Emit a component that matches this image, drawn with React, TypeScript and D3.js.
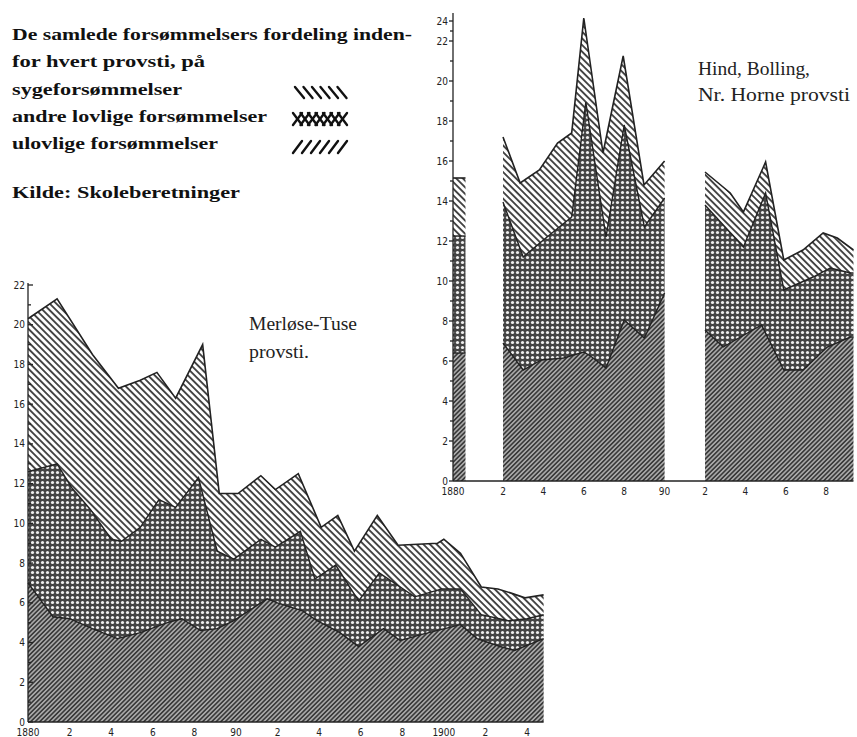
import * as d3 from "d3";

// Merløse-Tuse provsti: cumulative boundaries [year, value]
const mtTotal: [number, number][] = [
  [1880, 20.3], [1881.4, 21.3], [1883.1, 18.5], [1884.35, 16.8], [1885.4, 17.2],
  [1886.2, 17.6], [1887.1, 16.3], [1888.4, 19.0], [1889.2, 11.5], [1890.1, 11.5],
  [1891.2, 12.4], [1891.9, 11.7], [1893.0, 12.5], [1894.1, 9.8], [1894.9, 10.4],
  [1895.7, 8.6], [1896.8, 10.4], [1897.8, 8.9], [1899.7, 9.0], [1900.0, 9.2],
  [1900.8, 8.5], [1901.8, 6.8], [1902.6, 6.7], [1903.2, 6.5], [1903.9, 6.25],
  [1904.8, 6.4],
];
const mtMid: [number, number][] = [
  [1880, 12.6], [1881.4, 13.0], [1882.1, 11.8], [1883.0, 10.7], [1884.0, 9.2],
  [1884.5, 9.1], [1885.4, 9.8], [1886.3, 11.2], [1887.1, 10.8], [1888.2, 12.3],
  [1889.1, 8.6], [1889.9, 8.2], [1891.2, 9.2], [1891.9, 8.8], [1893.1, 9.6],
  [1893.8, 7.2], [1894.8, 7.9], [1895.9, 6.1], [1896.9, 7.5], [1898.6, 6.3],
  [1899.9, 6.7], [1900.8, 6.7], [1901.8, 5.4], [1903.1, 5.1], [1904.0, 5.2],
  [1904.8, 5.4],
];
const mtLow: [number, number][] = [
  [1880, 7.0], [1881.2, 5.3], [1882.0, 5.2], [1883.1, 4.7], [1884.3, 4.2],
  [1885.4, 4.5], [1886.7, 5.0], [1887.4, 5.2], [1888.3, 4.6], [1889.1, 4.7],
  [1889.9, 5.1], [1891.5, 6.2], [1892.0, 6.0], [1893.2, 5.6], [1893.9, 5.1],
  [1895.0, 4.5], [1895.9, 3.8], [1897.1, 4.7], [1897.9, 4.1], [1898.9, 4.4],
  [1900.8, 4.9], [1901.6, 4.2], [1902.7, 3.8], [1903.4, 3.6], [1904.8, 4.2],
];

// Hind, Bølling, Nr. Horne provsti: three separate blocks
const hbTotal: [number, number][][] = [
  [[1880, 15.15], [1880.5, 15.15]],
  [[1882, 17.2], [1882.85, 14.9], [1883.8, 15.55], [1884.7, 16.9], [1885.4, 17.4],
   [1886.0, 24.3], [1886.95, 16.4], [1887.95, 21.25], [1888.98, 14.8], [1890, 16.0]],
  [[1892, 15.45], [1893.25, 14.4], [1893.9, 13.45], [1895.0, 15.95], [1895.9, 11.05],
   [1896.85, 11.55], [1897.85, 12.4], [1898.55, 12.15], [1899.35, 11.55]],
];
const hbMid: [number, number][][] = [
  [[1880, 12.25], [1880.5, 12.25]],
  [[1882, 13.95], [1883, 11.2], [1884, 12.05], [1885.4, 13.2], [1886.1, 18.95],
   [1887.1, 12.2], [1888, 17.8], [1889, 12.7], [1890, 14.15]],
  [[1892, 13.8], [1893.9, 11.7], [1895.0, 14.4], [1895.9, 9.55], [1897.35, 10.2],
   [1898.2, 10.65], [1899.2, 10.4], [1899.35, 10.4]],
];
const hbLow: [number, number][][] = [
  [[1880, 6.4], [1880.5, 6.4]],
  [[1882, 6.9], [1883, 5.55], [1883.9, 6.05], [1885, 6.15], [1886, 6.45],
   [1886.4, 6.2], [1887.1, 5.65], [1888, 8.05], [1889, 7.15], [1890, 9.4]],
  [[1892, 7.55], [1892.9, 6.7], [1894.8, 7.8], [1895.9, 5.55], [1896.85, 5.55],
   [1898.05, 6.7], [1899.2, 7.2], [1899.35, 7.2]],
];

const mtYTicks = [0, 2, 4, 6, 8, 10, 12, 14, 16, 18, 20, 22];
const mtXTicks = [1880, 1882, 1884, 1886, 1888, 1890, 1892, 1894, 1896, 1898, 1900, 1902, 1904];
const mtXLabels = ["1880", "2", "4", "6", "8", "90", "2", "4", "6", "8", "1900", "2", "4"];
const hbYTicks = [0, 2, 4, 6, 8, 10, 12, 14, 16, 18, 20, 22, 24];
const hbXTicks = [1880, 1882, 1884, 1886, 1888, 1890, 1892, 1894, 1896, 1898];
const hbXLabels = ["1880", "2", "4", "6", "8", "90", "2", "4", "6", "8"];

const titleLines = [
  "De samlede forsømmelsers fordeling inden-",
  "for hvert provsti, på",
];
const legendLabels = ["sygeforsømmelser", "andre lovlige forsømmelser", "ulovlige forsømmelser"];
const sourceText = "Kilde: Skoleberetninger";

const xL = d3.scaleLinear().domain([1880, 1904]).range([28, 527]);
const yL = d3.scaleLinear().domain([0, 22]).range([722, 285]);
const xR = d3.scaleLinear().domain([1880, 1882, 1899.5]).range([453, 503, 856.5]);
const yR = d3.scaleLinear().domain([0, 22, 24]).range([481, 41, 21]);

type Sc = d3.ScaleLinear<number, number>;
const line = d3.line();

function band(upper: [number, number][], lower: [number, number][], x: Sc, y: Sc) {
  const pts: [number, number][] = [
    ...upper.map(([a, b]) => [x(a), y(b)] as [number, number]),
    ...[...lower].reverse().map(([a, b]) => [x(a), y(b)] as [number, number]),
  ];
  return line(pts) + "Z";
}
function edge(pts: [number, number][], x: Sc, y: Sc) {
  return line(pts.map(([a, b]) => [x(a), y(b)]))!;
}

function Block({ total, mid, low, x, y }: { total: [number, number][]; mid: [number, number][]; low: [number, number][]; x: Sc; y: Sc }) {
  const first = low[0][0];
  const last = low[low.length - 1][0];
  const base: [number, number][] = [[first, 0], [last, 0]];
  return (
    <g>
      <path d={band(low, base, x, y)} fill="url(#pUlov)" />
      <path d={band(mid, low, x, y)} fill="url(#pLov)" />
      <path d={band(total, mid, x, y)} fill="url(#pSyge)" />
      <path d={edge(low, x, y)} fill="none" stroke="#222" strokeWidth={1.4} />
      <path d={edge(mid, x, y)} fill="none" stroke="#222" strokeWidth={1.4} />
      <path d={edge(total, x, y)} fill="none" stroke="#222" strokeWidth={1.6} />
    </g>
  );
}

const tickFont = "'DejaVu Sans Condensed', 'DejaVu Sans', sans-serif";
const serif = "'Liberation Serif', 'Times New Roman', serif";

export default function App() {
  const mtMinor = d3.range(0, 23);
  const hbMinor = d3.range(0, 25);
  return (
    <svg width={857} height={737} style={{ position: "absolute", left: 0, top: 0, background: "#fff" }}>
      <defs>
        <pattern id="pSyge" patternUnits="userSpaceOnUse" width={8} height={4.7} patternTransform="rotate(45)">
          <rect width={8} height={4.7} fill="#fff" />
          <rect width={8} height={1.9} fill="#444" />
        </pattern>
        <pattern id="pLov" patternUnits="userSpaceOnUse" width={5} height={5}>
          <rect width={5} height={5} fill="#444" />
          <circle cx={2.5} cy={2.5} r={1.6} fill="#eee" />
        </pattern>
        <pattern id="pUlov" patternUnits="userSpaceOnUse" width={8} height={3.2} patternTransform="rotate(-45)">
          <rect width={8} height={3.2} fill="#a8a8a8" />
          <rect width={8} height={1.6} fill="#3a3a3a" />
        </pattern>
      </defs>

      {/* header text */}
      <g fontFamily={serif} fontWeight="bold" fontSize={17} fill="#111">
        <text x={12} y={40} textLength={400} lengthAdjust="spacingAndGlyphs">{titleLines[0]}</text>
        <text x={12} y={67} textLength={193} lengthAdjust="spacingAndGlyphs">{titleLines[1]}</text>
        <text x={12} y={95} textLength={170} lengthAdjust="spacingAndGlyphs">{legendLabels[0]}</text>
        <text x={12} y={122} textLength={255} lengthAdjust="spacingAndGlyphs">{legendLabels[1]}</text>
        <text x={12} y={149} textLength={206} lengthAdjust="spacingAndGlyphs">{legendLabels[2]}</text>
        <text x={12} y={198} textLength={228} lengthAdjust="spacingAndGlyphs">{sourceText}</text>
      </g>
      {/* legend symbols */}
      <g stroke="#111" strokeWidth={2.4} strokeLinecap="round">
        {d3.range(6).map((i) => (
          <line key={"a" + i} x1={295 + i * 8.5} y1={87} x2={304 + i * 8.5} y2={98} />
        ))}
        {d3.range(7).map((i) => (
          <line key={"b" + i} x1={293 + i * 7.5} y1={125} x2={302 + i * 7.5} y2={113} />
        ))}
        {d3.range(7).map((i) => (
          <line key={"c" + i} x1={293 + i * 7.5} y1={113} x2={302 + i * 7.5} y2={125} />
        ))}
        {d3.range(6).map((i) => (
          <line key={"d" + i} x1={293 + i * 9} y1={153} x2={302 + i * 9} y2={141} />
        ))}
      </g>

      {/* Merløse-Tuse panel */}
      <Block total={mtTotal} mid={mtMid} low={mtLow} x={xL} y={yL} />
      <g stroke="#222" strokeWidth={1.3}>
        <line x1={xL(1880)} x2={xL(1880)} y1={yL(22) - 2} y2={yL(0)} />
        <line x1={xL(1880)} x2={xL(mtTotal[mtTotal.length - 1][0])} y1={yL(0)} y2={yL(0)} />
        {mtMinor.map((v) => (
          <line key={v} x1={xL(1880)} x2={xL(1880) + (v % 2 === 0 ? 5 : 3)} y1={yL(v)} y2={yL(v)} />
        ))}
      </g>
      <g fontFamily={tickFont} fontSize={10} fill="#222">
        {mtYTicks.map((v) => (
          <text key={v} x={25} y={yL(v) + 3.5} textAnchor="end">{v}</text>
        ))}
        {mtXTicks.map((t, i) => (
          <text key={t} x={xL(t)} y={736} textAnchor="middle">{mtXLabels[i]}</text>
        ))}
      </g>
      <g fontFamily={serif} fontSize={18} fill="#222">
        <text x={249} y={330} textLength={108} lengthAdjust="spacingAndGlyphs">Merløse-Tuse</text>
        <text x={249} y={358} textLength={60} lengthAdjust="spacingAndGlyphs">provsti.</text>
      </g>

      {/* Hind, Bølling, Nr. Horne panel */}
      {hbTotal.map((t, i) => (
        <Block key={i} total={t} mid={hbMid[i]} low={hbLow[i]} x={xR} y={yR} />
      ))}
      <g stroke="#222" strokeWidth={1.3}>
        <line x1={xR(1880)} x2={xR(1880)} y1={yR(24) - 8} y2={yR(0)} />
        <line x1={xR(1880)} x2={xR(1899.35)} y1={yR(0)} y2={yR(0)} />
        {hbMinor.map((v) => (
          <line key={v} x1={xR(1880)} x2={xR(1880) - (v % 2 === 0 ? 4 : 3)} y1={yR(v)} y2={yR(v)} />
        ))}
      </g>
      <g fontFamily={tickFont} fontSize={10} fill="#222">
        {hbYTicks.map((v) => (
          <text key={v} x={448} y={yR(v) + 3.5} textAnchor="end">{v}</text>
        ))}
        {hbXTicks.map((t, i) => (
          <text key={t} x={xR(t)} y={495} textAnchor="middle">{hbXLabels[i]}</text>
        ))}
      </g>
      <g fontFamily={serif} fontSize={18} fill="#222">
        <text x={698} y={75} textLength={112} lengthAdjust="spacingAndGlyphs">Hind, Bolling,</text>
        <text x={698} y={101} textLength={152} lengthAdjust="spacingAndGlyphs">Nr. Horne provsti</text>
      </g>
    </svg>
  );
}
